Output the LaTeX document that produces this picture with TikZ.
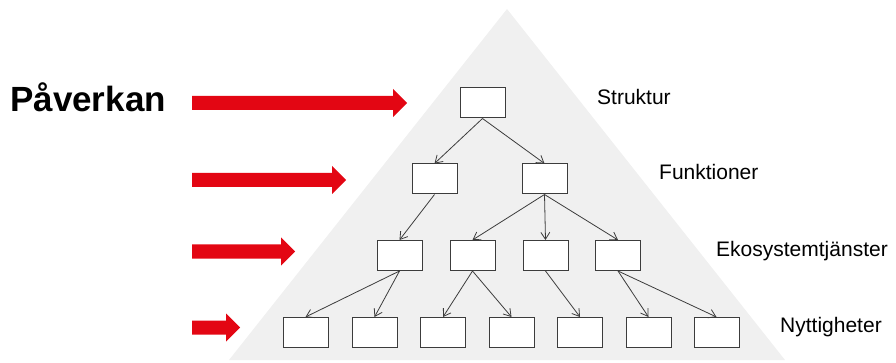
\documentclass[tikz,border=0pt]{standalone}
\usepackage{fontspec}
\setmainfont{Liberation Sans}
\usetikzlibrary{arrows.meta}
\definecolor{pyramidgray}{RGB}{240,240,240}
\definecolor{impactred}{RGB}{227,6,19}
\definecolor{boxline}{RGB}{60,60,60}
\tikzset{
  pbox/.style={draw=boxline, line width=1pt, fill=white, minimum width=45pt, minimum height=30pt, inner sep=0pt},
  link/.style={draw=boxline, line width=0.8pt, -{Straight Barb[length=7pt,width=9pt]}},
  lvllabel/.style={anchor=base west, inner sep=0pt, font=\fontsize{21}{25}\selectfont},
  redarrow/.style={fill=impactred, draw=none}
}
\begin{document}
\begin{tikzpicture}[x=1pt,y=-1pt]
\useasboundingbox (0,0) rectangle (896,363);
% pyramid background
\fill[pyramidgray] (507,9) -- (785,360) -- (229,360) -- cycle;

% impact arrows: #1 centre line, #2 tip x
\newcommand{\impactarrow}[2]{%
  \path[redarrow] (192,#1-7) -- (#2-14,#1-7) -- (#2-14,#1-14) -- (#2,#1)
    -- (#2-14,#1+14) -- (#2-14,#1+7) -- (192,#1+7) -- cycle;}
\impactarrow{103}{407}
\impactarrow{180}{346}
\impactarrow{251.5}{295}
\impactarrow{327.5}{240}

\node[anchor=base west, inner sep=0pt, font=\fontsize{35}{40}\selectfont\bfseries] (title) at (10,112) {Påverkan};

% level 1
\node[pbox] (s) at (482.5,103) {};
% level 2
\node[pbox] (f1) at (434.5,179) {};
\node[pbox] (f2) at (544.5,179) {};
% level 3
\node[pbox] (e1) at (399.5,255.5) {};
\node[pbox] (e2) at (472.5,255.5) {};
\node[pbox] (e3) at (545.5,255.5) {};
\node[pbox] (e4) at (618,255.5) {};
% level 4
\node[pbox] (n1) at (305.5,332.5) {};
\node[pbox] (n2) at (374.5,332.5) {};
\node[pbox] (n3) at (443,332.5) {};
\node[pbox] (n4) at (511.5,332.5) {};
\node[pbox] (n5) at (580,332.5) {};
\node[pbox] (n6) at (648.5,332.5) {};
\node[pbox] (n7) at (716.5,332.5) {};

% links
\draw[link] (s.south) -- (f1.north);
\draw[link] (s.south) -- (f2.north);
\draw[link] (f1.south) -- (e1.north);
\draw[link] (f2.south) -- (e2.north);
\draw[link] (f2.south) -- (e3.north);
\draw[link] (f2.south) -- (e4.north);
\draw[link] (e1.south) -- (n1.north);
\draw[link] (e1.south) -- (n2.north);
\draw[link] (e2.south) -- (n3.north);
\draw[link] (e2.south) -- (n4.north);
\draw[link] (e3.south) -- (n5.north);
\draw[link] (e4.south) -- (n6.north);
\draw[link] (e4.south) -- (n7.north);

% level labels
\node[lvllabel] (l1) at (597,105) {Struktur};
\node[lvllabel] (l2) at (659,180) {Funktioner};
\node[lvllabel] (l3) at (716,256.5) {Ekosystemtjänster};
\node[lvllabel] (l4) at (780,332) {Nyttigheter};
\end{tikzpicture}
\end{document}
